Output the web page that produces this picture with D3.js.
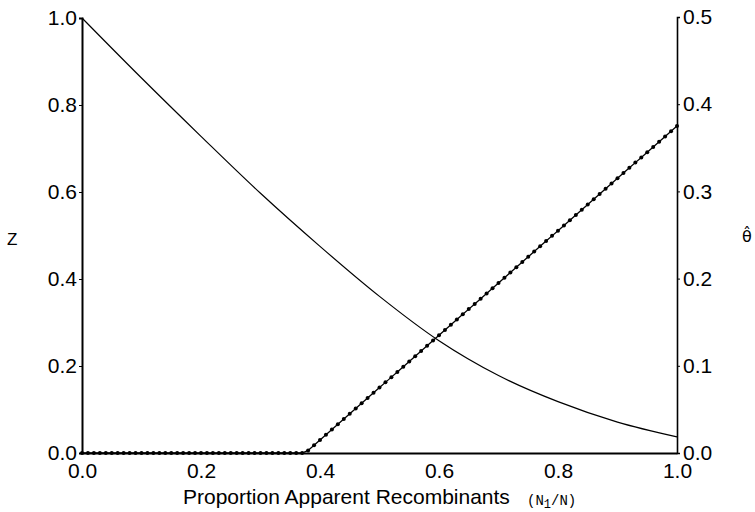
<!DOCTYPE html>
<meta charset="utf-8">
<head>
  <title>Z and theta-hat vs proportion of recombinants</title>
</head>

<style>
  body { margin: 0; background: #fff; }
  text { font-family: "Liberation Sans", Arial, sans-serif; fill: #000; }
</style>

<body>
  <svg width="755" height="512"></svg>

  <script src="https://cdn.jsdelivr.net/npm/d3@7"></script>
  <script>

// Z curve (left axis)
var zX = [0.0, 0.1, 0.2, 0.3, 0.4, 0.5, 0.6, 0.7, 0.8, 0.9, 1.0]
var zValues = [1.000, 0.862, 0.728, 0.597, 0.475, 0.360, 0.258, 0.178, 0.118, 0.071, 0.037]

// theta-hat (right axis), dotted line sampled every 0.01
var thetaX = [
  0.00,0.01,0.02,0.03,0.04,0.05,0.06,0.07,0.08,0.09,
  0.10,0.11,0.12,0.13,0.14,0.15,0.16,0.17,0.18,0.19,
  0.20,0.21,0.22,0.23,0.24,0.25,0.26,0.27,0.28,0.29,
  0.30,0.31,0.32,0.33,0.34,0.35,0.36,0.37,0.38,0.39,
  0.40,0.41,0.42,0.43,0.44,0.45,0.46,0.47,0.48,0.49,
  0.50,0.51,0.52,0.53,0.54,0.55,0.56,0.57,0.58,0.59,
  0.60,0.61,0.62,0.63,0.64,0.65,0.66,0.67,0.68,0.69,
  0.70,0.71,0.72,0.73,0.74,0.75,0.76,0.77,0.78,0.79,
  0.80,0.81,0.82,0.83,0.84,0.85,0.86,0.87,0.88,0.89,
  0.90,0.91,0.92,0.93,0.94,0.95,0.96,0.97,0.98,0.99,
  1.00]
var thetaValues = [
  0,0,0,0,0,0,0,0,0,0,
  0,0,0,0,0,0,0,0,0,0,
  0,0,0,0,0,0,0,0,0,0,
  0,0,0,0,0,0,0,0,0.003,0.009,
  0.015,0.021,0.027,0.033,0.039,0.045,0.051,0.057,0.063,0.069,
  0.075,0.081,0.087,0.093,0.099,0.105,0.111,0.117,0.123,0.129,
  0.135,0.141,0.147,0.153,0.159,0.165,0.171,0.177,0.183,0.189,
  0.195,0.201,0.207,0.213,0.219,0.225,0.231,0.237,0.243,0.249,
  0.255,0.261,0.267,0.273,0.279,0.285,0.291,0.297,0.303,0.309,
  0.315,0.321,0.327,0.333,0.339,0.345,0.351,0.357,0.363,0.369,
  0.375]

var xTicks = [0.0, 0.2, 0.4, 0.6, 0.8, 1.0]
var zTicks = [0.0, 0.2, 0.4, 0.6, 0.8, 1.0]
var thetaTicks = [0.0, 0.1, 0.2, 0.3, 0.4, 0.5]

var svg = d3.select('svg')

var plotLeft = 82, plotRight = 677, plotTop = 18, plotBottom = 453

var x = d3.scaleLinear().domain([0, 1]).range([plotLeft, plotRight])
var yZ = d3.scaleLinear().domain([0, 1]).range([plotBottom, plotTop])
var yT = d3.scaleLinear().domain([0, 0.5]).range([plotBottom, plotTop - 1])

// axes
var xAxis = svg.append('g')
    .attr('transform', 'translate(0,' + plotBottom + ')')
    .call(d3.axisBottom(x).tickValues(xTicks).tickFormat(d3.format('.1f')).tickSize(0).tickPadding(10))
var zAxis = svg.append('g')
    .attr('transform', 'translate(' + plotLeft + ',0)')
    .call(d3.axisLeft(yZ).tickValues(zTicks).tickFormat(d3.format('.1f')).tickSize(3).tickPadding(2))
var tAxis = svg.append('g')
    .attr('transform', 'translate(' + plotRight + ',0)')
    .call(d3.axisRight(yT).tickValues(thetaTicks).tickFormat(d3.format('.1f')).tickSize(3).tickPadding(3))

svg.selectAll('.domain').attr('stroke', '#000')
xAxis.select('.domain').attr('stroke-width', 2)
zAxis.select('.domain').attr('stroke-width', 2)
tAxis.select('.domain').attr('stroke-width', 1.6)
svg.selectAll('.tick line').attr('stroke', '#000').attr('stroke-width', 1)
svg.selectAll('.tick text')
    .style('font-family', '"Liberation Sans", Arial, sans-serif')
    .style('font-size', '21px')
    .attr('fill', '#000')

// Z curve
var zLine = d3.line()
    .x(function(d, i) { return x(zX[i]) })
    .y(function(d) { return yZ(d) })
    .curve(d3.curveMonotoneX)

svg.append('path')
    .attr('d', zLine(zValues))
    .style('fill', 'none')
    .style('stroke', '#000')
    .style('stroke-width', 1.2)

// theta-hat dotted line
var tLine = d3.line()
    .x(function(d, i) { return x(thetaX[i]) })
    .y(function(d) { return yT(d) })

svg.append('path')
    .attr('d', tLine(thetaValues))
    .style('fill', 'none')
    .style('stroke', '#000')
    .style('stroke-width', 1.3)

svg.selectAll('.dot')
    .data(thetaValues)
    .enter()
    .append('circle')
    .attr('class', 'dot')
    .attr('cx', function(d, i) { return x(thetaX[i]) })
    .attr('cy', function(d) { return yT(d) })
    .attr('r', 2)
    .style('fill', '#000')

// axis titles
svg.append('text')
    .attr('x', 7)
    .attr('y', 245)
    .style('font-size', '17px')
    .text('Z')

svg.append('text')
    .attr('x', 742)
    .attr('y', 242)
    .style('font-family', '"DejaVu Sans", sans-serif')
    .style('font-size', '16px')
    .text('θ\u0302')

var title = svg.append('text')
    .attr('x', 183)
    .attr('y', 504)
    .style('font-size', '21px')
title.append('tspan').text('Proportion Apparent Recombinants')

var sub = svg.append('text')
    .attr('x', 527)
    .attr('y', 505)
    .style('font-family', '"Liberation Mono", "DejaVu Sans Mono", monospace')
    .style('font-size', '14px')
sub.append('tspan').text('(N')
sub.append('tspan')
    .attr('dy', 3)
    .style('font-size', '12px')
    .text('1')
sub.append('tspan')
    .attr('dy', -3)
    .text('/N)')

  </script>
</body>
</html>
